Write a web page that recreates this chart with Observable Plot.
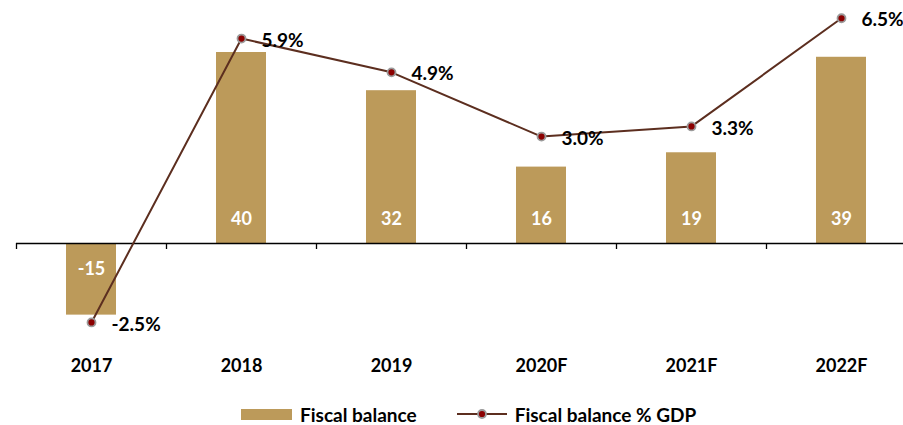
<!DOCTYPE html>
<html>
<head>
<meta charset="utf-8">
<script src="https://cdn.jsdelivr.net/npm/d3@7"></script>
<script src="https://cdn.jsdelivr.net/npm/@observablehq/plot@0.6"></script>
<style>
  body { margin: 0; background: #fff; font-family: Lato, "Open Sans", sans-serif; }
  #chart { position: relative; width: 903px; height: 425px; }
  .legend { position: absolute; top: 402px; left: 241px; height: 24px; display: flex; align-items: center; font-weight: bold; font-size: 19px; color: #000; }
  .legend .item { display: flex; align-items: center; }
  .legend .item.first { margin-right: 40px; }
  .sw-bar { width: 51px; height: 11px; background: #BC9A5A; margin-right: 8px; }
  .sw-line { width: 50px; height: 14px; margin-right: 8px; }
</style>
</head>
<body>
<div id="chart"></div>
<script>
const categories = ["2017", "2018", "2019", "2020F", "2021F", "2022F"];
const balance = [-15, 40, 32, 16, 19, 39];
const pctGDP = [-2.5, 5.9, 4.9, 3.0, 3.3, 6.5];

const barColor = "#BC9A5A";
const lineColor = "#5C2E1F";

const barDomain = [-20, 50];
const pctDomain = [-2.99, 6.90];
const pctToBar = d3.scaleLinear(pctDomain, barDomain);

const data = categories.map((c, i) => ({cat: c, bal: balance[i], pct: pctGDP[i], pctY: pctToBar(pctGDP[i])}));

const fontFam = "Lato, 'Open Sans', sans-serif";

const plot = Plot.plot({
  width: 903,
  height: 395,
  marginLeft: 16,
  marginRight: 0,
  marginTop: 0,
  marginBottom: 45,
  style: {fontFamily: fontFam, background: "transparent", overflow: "visible"},
  x: {domain: categories, range: [16, 916], paddingInner: 0.667, paddingOuter: 0.333, align: 0.5, label: null},
  y: {domain: barDomain, range: [338.5, 4.25], axis: null},
  marks: [
    Plot.barY(data, {x: "cat", y: "bal", fill: barColor}),
    Plot.ruleY([0], {stroke: "#000", strokeWidth: 1.3}),
    Plot.ruleX(data, {x: "cat", y1: 0, y2: 0, dx: -75, insetBottom: -6, stroke: "#000", strokeWidth: 1.3}),
    Plot.text(data.filter(d => d.bal >= 0), {x: "cat", y: 0, text: d => String(d.bal), dy: -24, fill: "#fff", fontSize: 18, fontWeight: "bold"}),
    Plot.text(data.filter(d => d.bal < 0), {x: "cat", y: 0, text: d => String(d.bal), dy: 26, fill: "#fff", fontSize: 18, fontWeight: "bold"}),
    Plot.line(data, {x: "cat", y: "pctY", stroke: lineColor, strokeWidth: 2}),
    Plot.dot(data, {x: "cat", y: "pctY", r: 4, fill: "#8B0000", stroke: "#9a9a9a", strokeWidth: 1.8}),
    Plot.text(data, {x: "cat", y: "pctY", text: d => d.pct.toFixed(1) + "%", dx: 20, dy: 2, textAnchor: "start", fill: "#000", fontSize: 19, fontWeight: "bold"}),
    Plot.axisX({tickSize: 0, tickPadding: 9, fontSize: 18, fontWeight: "bold", fill: "#000", label: null})
  ]
});
plot.style.position = "absolute";
plot.style.left = "0";
plot.style.top = "0";
document.getElementById("chart").appendChild(plot);

const legend = document.createElement("div");
legend.className = "legend";
legend.innerHTML = `
  <div class="item first"><div class="sw-bar"></div><span>Fiscal balance</span></div>
  <div class="item"><svg class="sw-line" width="50" height="14"><line x1="0" x2="50" y1="7" y2="7" stroke="${lineColor}" stroke-width="2"/><circle cx="25" cy="7" r="4" fill="#8B0000" stroke="#9a9a9a" stroke-width="1.8"/></svg><span>Fiscal balance % GDP</span></div>`;
document.getElementById("chart").appendChild(legend);
</script>
</body>
</html>
